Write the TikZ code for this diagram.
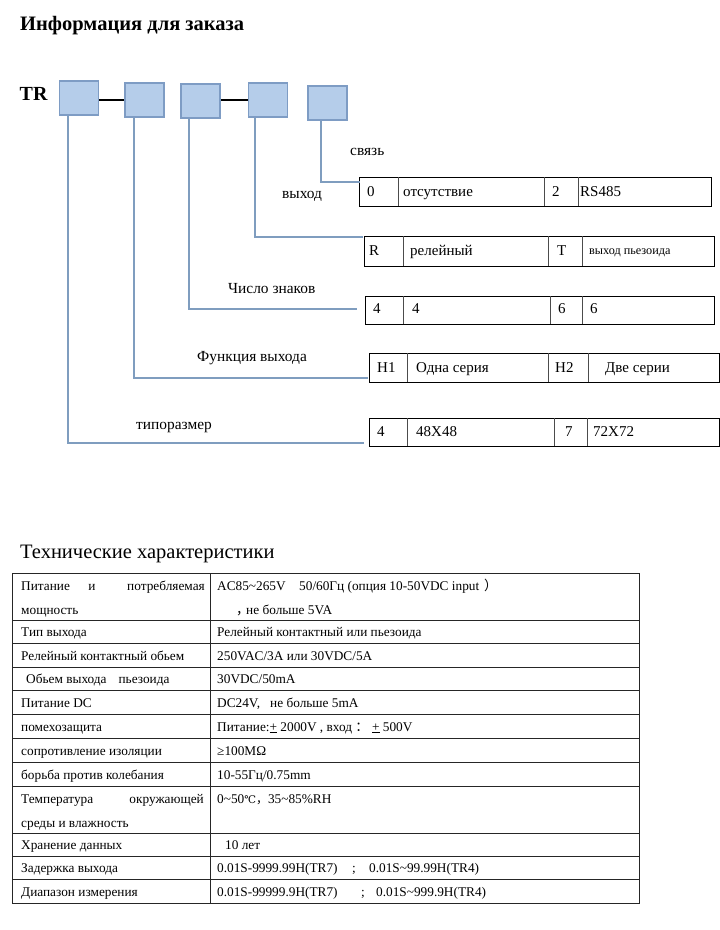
\documentclass[tikz,border=0pt]{standalone}
\usepackage{fontspec}
\setmainfont{Liberation Serif}
\newfontfamily\cjkf{Noto Sans CJK SC}
\newfontfamily\djv{DejaVu Serif}
\usetikzlibrary{calc}
\definecolor{boxfill}{HTML}{B5CDEA}
\definecolor{boxdraw}{HTML}{7E9CC4}
\definecolor{conn}{HTML}{7F9DBF}
\begin{document}
\begin{tikzpicture}[x=1pt,y=-1pt,
  ordbox/.style={draw=boxdraw, fill=boxfill, line width=1.5pt, minimum width=39pt, minimum height=34pt, inner sep=0pt},
  link/.style={draw=conn, line width=1.6pt},
  tabbox/.style={draw=black, line width=1pt, inner sep=0pt, anchor=north west},
  divl/.style={draw=black!70, line width=1pt},
  ot/.style={anchor=base west, inner sep=0pt, font=\fontsize{15}{18}\selectfont},
  lab/.style={anchor=base west, inner sep=0pt, font=\fontsize{15.4}{18}\selectfont},
  st/.style={anchor=base west, inner sep=0pt, font=\fontsize{13.3}{16}\selectfont},
  gridl/.style={draw=black!85, line width=1pt},
]
\useasboundingbox (0,0) rectangle (720,930);

% ---------- titles ----------
\node[anchor=base west, inner sep=0pt, font=\fontsize{20.5}{24}\bfseries] (title1) at (20,30) {Информация для заказа};
\node[anchor=base west, inner sep=0pt, font=\fontsize{20}{24}\bfseries] (tr) at (19.5,100) {TR};

% ---------- code boxes ----------
\node[ordbox] (b1) at (79,98) {};
\node[ordbox] (b2) at (144.5,100) {};
\node[ordbox] (b3) at (200.5,101) {};
\node[ordbox] (b4) at (268,100) {};
\node[ordbox] (b5) at (327.5,103) {};
\draw[line width=1.3pt] (b1.east |- 0,100) -- (b2.west |- 0,100);
\draw[line width=1.3pt] (b3.east |- 0,100) -- (b4.west |- 0,100);

% ---------- option tables ----------
% связь
\node[tabbox, minimum width=352pt, minimum height=29pt] (t5) at (359,177) {};
\draw[divl] (398,177) -- (398,206) (544,177) -- (544,206) (578,177) -- (578,206);
\node[ot] (t5a) at (367,196) {0};
\node[ot] (t5b) at (403,196) {отсутствие};
\node[ot] (t5c) at (552,196) {2};
\node[ot] (t5d) at (580,196) {RS485};
% выход
\node[tabbox, minimum width=350pt, minimum height=30pt] (t4) at (364,236) {};
\draw[divl] (403,236) -- (403,266) (548,236) -- (548,266) (582,236) -- (582,266);
\node[ot] (t4a) at (369,255.5) {R};
\node[ot] (t4b) at (410,255.5) {релейный};
\node[ot] (t4c) at (557,255.5) {T};
\node[anchor=base west, inner sep=0pt, font=\fontsize{12.2}{14}\selectfont] (t4d) at (589,254.5) {выход пьезоида};
% число знаков
\node[tabbox, minimum width=349pt, minimum height=28pt] (t3) at (365,296) {};
\draw[divl] (403,296) -- (403,324) (550,296) -- (550,324) (582,296) -- (582,324);
\node[ot] (t3a) at (373,313.5) {4};
\node[ot] (t3b) at (412,313.5) {4};
\node[ot] (t3c) at (558,313.5) {6};
\node[ot] (t3d) at (590,313.5) {6};
% функция выхода
\node[tabbox, minimum width=350pt, minimum height=29pt] (t2) at (369,353) {};
\draw[divl] (407,353) -- (407,382) (548,353) -- (548,382) (588,353) -- (588,382);
\node[ot] (t2a) at (377,372) {H1};
\node[ot] (t2b) at (416,372) {Одна серия};
\node[ot] (t2c) at (555,372) {H2};
\node[ot] (t2d) at (605,372) {Две серии};
% типоразмер
\node[tabbox, minimum width=350pt, minimum height=28pt] (t1) at (369,418) {};
\draw[divl] (407,418) -- (407,446) (554,418) -- (554,446) (587,418) -- (587,446);
\node[ot] (t1a) at (377,436) {4};
\node[ot] (t1b) at (416,436) {48X48};
\node[ot] (t1c) at (565,436) {7};
\node[ot] (t1d) at (593,436) {72X72};

% ---------- labels ----------
\node[lab] (l5) at (350,155) {связь};
\node[lab] (l4) at (282,198) {выход};
\node[lab] (l3) at (228,293) {Число знаков};
\node[lab] (l2) at (197,361) {Функция выхода};
\node[lab] (l1) at (136,429) {типоразмер};

% ---------- connectors ----------
\coordinate (e5) at (360,182);
\coordinate (e4) at (363,237);
\coordinate (e3) at (357,309);
\coordinate (e2) at (368,378);
\coordinate (e1) at (364,443);
\draw[link] ([xshift=13.5pt]b5.south west) |- (e5);
\draw[link] ([xshift=7pt]b4.south west) |- (e4);
\draw[link] ([xshift=8.5pt]b3.south west) |- (e3);
\draw[link] ([xshift=9.5pt]b2.south west) |- (e2);
\draw[link] ([xshift=9.5pt]b1.south west) |- (e1);

% ---------- spec table ----------
\node[anchor=base west, inner sep=0pt, font=\fontsize{20.5}{24}\selectfont] (title2) at (20,558) {Технические характеристики};
\node[draw=black!85, line width=1pt, inner sep=0pt, anchor=north west, minimum width=627pt, minimum height=330pt] (spec) at (12,573) {};
\draw[gridl] (210,573) -- (210,903);
\foreach \yy in {620,643,667,690,714,738,762,786,833,856,879}
  \draw[gridl] (12,\yy) -- (639,\yy);

% left column
\node[st] (p1a) at (21,590) {Питание};
\node[st, anchor=base] (p1b) at (92,590) {и};
\node[st, anchor=base east] (p1c) at (205,590) {потребляемая};
\node[st] (p1d) at (21,614) {мощность};
\node[st] (p2) at (21,636) {Тип выхода};
\node[st] (p3) at (21,660) {Релейный контактный обьем};
\node[st] (p4) at (26,683) {Обьем выхода\hspace{12pt}пьезоида};
\node[st] (p5) at (21,707) {Питание DC};
\node[st] (p6) at (21,731) {помехозащита};
\node[st] (p7) at (21,755) {сопротивление изоляции};
\node[st] (p8) at (21,779) {борьба против колебания};
\node[st] (p9a) at (21,803) {Температура};
\node[st, anchor=base east] (p9b) at (204,803) {окружающей};
\node[st] (p9c) at (21,827) {среды и влажность};
\node[st] (p10) at (21,849) {Хранение данных};
\node[st] (p11) at (21,872) {Задержка выхода};
\node[st] (p12) at (21,896) {Диапазон измерения};

% right column
\node[st] (v1a) at (217,590) {AC85\textasciitilde265V};
\node[st] (v1b) at (299,590) {50/60Гц (опция 10-50VDC input};
\node[st] (v1c) at (484,590) {{\cjkf ）}};
\node[st] (v1d) at (236,614) {{\cjkf ，}};
\node[st] (v1e) at (246,614) {не больше 5VA};
\node[st] (v2) at (217,636) {Релейный контактный или пьезоида};
\node[st] (v3) at (217,660) {250VAC/3A или 30VDC/5A};
\node[st] (v4) at (217,683) {30VDC/50mA};
\node[st] (v5) at (217,707) {DC24V,\hspace{10pt}не больше 5mA};
\node[st] (v6) at (217,731) {Питание:\underline{+} 2000V , вход {\cjkf ：} \underline{+} 500V};
\node[st] (v7) at (217,755) {≥100MΩ};
\node[st] (v8) at (217,779) {10-55Гц/0.75mm};
\node[st] (v9) at (217,803) {0\textasciitilde50{\djv\fontsize{10.5}{12}\selectfont ℃}{\cjkf\fontsize{12}{14}\selectfont ，}35\textasciitilde85\%RH};
\node[st] (v10) at (225,849) {10 лет};
\node[st] (v11a) at (217,872) {0.01S-9999.99H(TR7)};
\node[st] (v11b) at (352,872) {;};
\node[st] (v11c) at (369,872) {0.01S\textasciitilde99.99H(TR4)};
\node[st] (v12a) at (217,896) {0.01S-99999.9H(TR7)};
\node[st] (v12b) at (361,896) {;};
\node[st] (v12c) at (376,896) {0.01S\textasciitilde999.9H(TR4)};
\end{tikzpicture}
\end{document}
